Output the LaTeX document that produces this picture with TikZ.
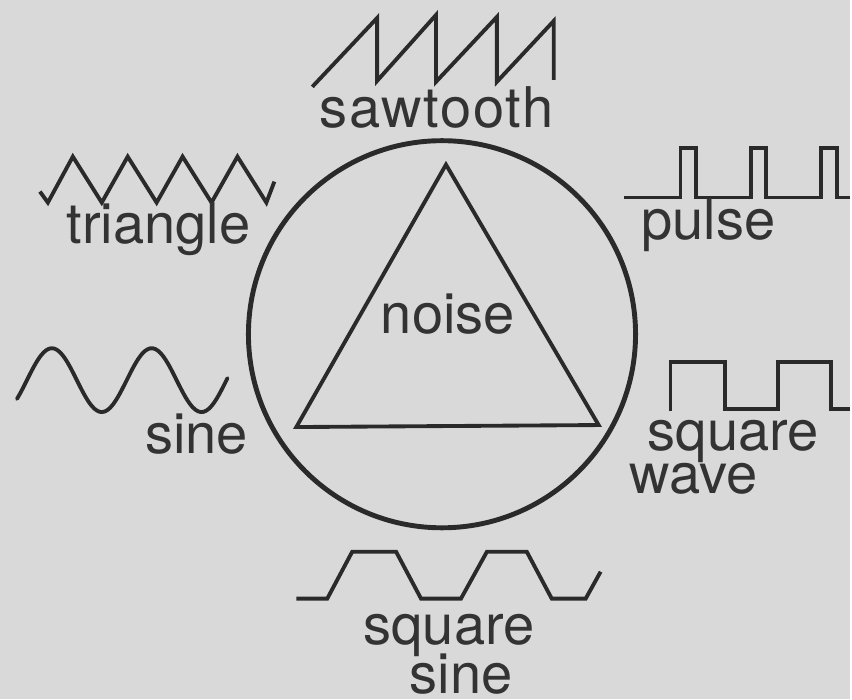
\documentclass[tikz,border=0pt]{standalone}
\usepackage{fontspec}
\setmainfont{TeX Gyre Heros}
\usepackage{xcolor}
\definecolor{cpaper}{HTML}{D9D9D9}
\definecolor{cink}{HTML}{2A2A2A}
\definecolor{ctext}{HTML}{333333}

\begin{document}
\begin{tikzpicture}[x=0.02cm, y=-0.02cm,
    sig/.style={draw=cink, line width=2.2pt, line join=miter},
    rim/.style={draw=cink, line width=2.8pt},
    every node/.style={
      text=ctext, inner sep=0pt, anchor=base,
      font=\fontsize{32}{38}\selectfont}]
    \fill[cpaper] (0,0) rectangle (852,701);
    % centre
    \draw[rim] (443,335) circle (194);
    \draw[sig] (447,165) -- (297,428) -- (600,426) -- cycle;
    \node (noise) at (449,334) {noise};
    % sawtooth
    \draw[sig] (313,87) -- (378,18) -- (378,81) -- (437,15) -- (437,82)
      -- (498,17) -- (498,82) -- (555,21) -- (555,80);
    \node (saw) at (438,128) {\addfontfeature{LetterSpace=3}sawtooth};
    % triangle
    \draw[sig] (40,192) -- (48,203) -- (73,157) -- (102,203) -- (128,157)
      -- (157,203) -- (183,157) -- (212,203) -- (238,157) -- (267,203) -- (275,182);
    \node (tri) at (159,244) {triangle};
    % pulse
    \draw[sig] (625,198) -- (682,198) -- (682,148) -- (698,148) -- (698,198)
      -- (753,198) -- (753,148) -- (768,148) -- (768,198) -- (823,198)
      -- (823,148) -- (839,148) -- (839,198) -- (852,198);
    \node (pulse) at (710,240) {pulse};
    % sine
    \draw[sig, line cap=round, domain=17:228, samples=80, smooth]
      plot (\x, {381-32*sin((\x-27)*3.6)});
    \node (sine) at (197,455) {sine};
    % square wave
    \draw[sig] (672,412) -- (672,363) -- (727,363) -- (727,410) -- (780,410)
      -- (780,363) -- (833,363) -- (833,410) -- (852,410);
    \node (sqa) at (735,452) {square};
    \node (sqb) at (695,495) {wave};
    % square sine
    \draw[sig] (297,600) -- (328,600) -- (353,553) -- (397,553) -- (422,600)
      -- (462,600) -- (488,553) -- (528,553) -- (553,600) -- (587,600) -- (602,573);
    \node (sqs) at (450,646) {square};
    \node (sqt) at (462,695) {sine};
\end{tikzpicture}
\end{document}
